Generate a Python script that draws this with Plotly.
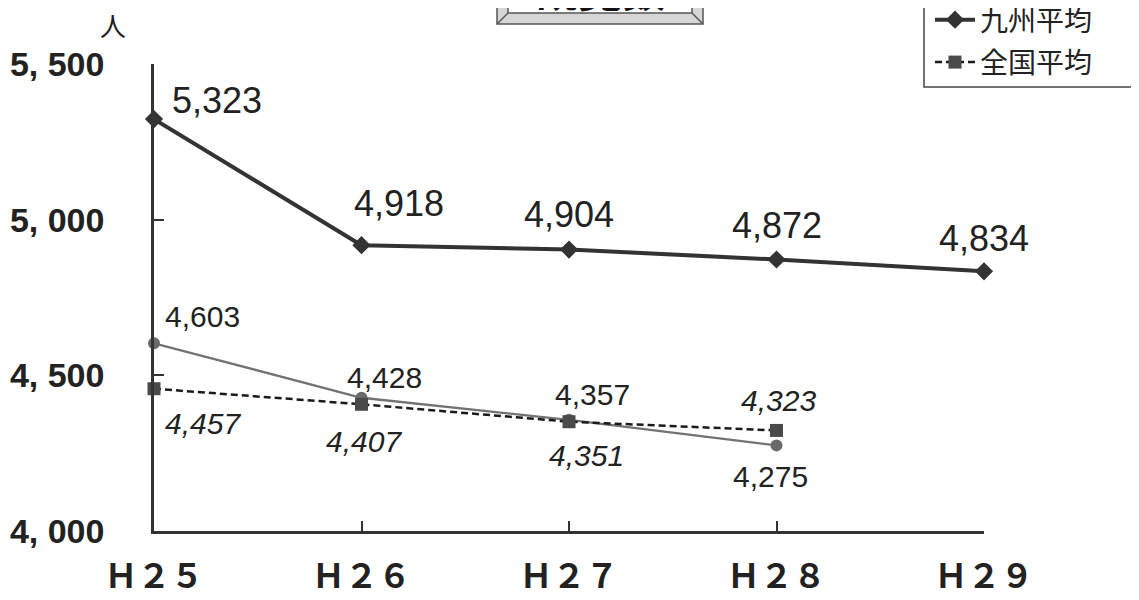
import plotly.graph_objects as go

# ---- data ----
categories = ["Ｈ２５", "Ｈ２６", "Ｈ２７", "Ｈ２８", "Ｈ２９"]
kyushu = [5323, 4918, 4904, 4872, 4834]
zenkoku = [4457, 4407, 4351, 4323]
other = [4603, 4428, 4357, 4275]
y_ticks = [4000, 4500, 5000, 5500]
y_ticktext = ["4, 000", "4, 500", "5, 000", "5, 500"]
title_text = "観覧数"
unit_text = "人"

# ---- geometry (page px; the page body has an 8px margin) ----
OFF = 8
W, H = 1139 - 2 * OFF, 600 - 2 * OFF
PL, PR, PT, PB = 154, 984, 64, 531          # plot area in page px
L, R, T, B = PL - OFF, W - (PR - OFF), PT - OFF, H - (PB - OFF)
PW, PH = W - L - R, H - T - B

def px(xp):
    return (xp - OFF - L) / PW

def py(yp):
    return (H - B - (yp - OFF)) / PH

xs = list(range(len(categories)))

fig = go.Figure()
fig.add_trace(go.Scatter(
    x=xs[:len(other)], y=other, mode="lines+markers", showlegend=False,
    line=dict(color="#727272", width=2.3),
    marker=dict(symbol="circle", size=12, color="#6a6a6a"),
    cliponaxis=False, name="その他"))
fig.add_trace(go.Scatter(
    x=xs, y=kyushu, mode="lines+markers", name="九州平均",
    legendgroup="a",
    line=dict(color="#333333", width=4),
    marker=dict(symbol="diamond", size=14, color="#333333"),
    cliponaxis=False))
fig.add_trace(go.Scatter(
    x=xs[:len(zenkoku)], y=zenkoku, mode="lines+markers", name="全国平均",
    legendgroup="b",
    line=dict(color="#1a1a1a", width=2.5, dash="7px,4px"),
    marker=dict(symbol="square", size=13, color="#4a4a4a"),
    cliponaxis=False))

ann = []
k_off = [(63, -19), (37, -42), (0, -35), (0, -34), (0, -33)]
o_off = [(48, -27), (23, -20), (23, -25), (-6, 31)]
z_off = [(49, 35), (2, 37), (17, 34), (2, -30)]
for i, v in enumerate(kyushu):
    ann.append(dict(x=xs[i], y=v, text=f"{v:,}", showarrow=False,
                    xshift=k_off[i][0], yshift=-k_off[i][1],
                    font=dict(family="Liberation Sans", size=36, color="#222")))
for i, v in enumerate(other):
    ann.append(dict(x=xs[i], y=v, text=f"{v:,}", showarrow=False,
                    xshift=o_off[i][0], yshift=-o_off[i][1],
                    font=dict(family="Liberation Sans", size=30, color="#222")))
for i, v in enumerate(zenkoku):
    ann.append(dict(x=xs[i], y=v, text=f"<i>{v:,}</i>", showarrow=False,
                    xshift=z_off[i][0], yshift=-z_off[i][1],
                    font=dict(family="Liberation Sans", size=30, color="#222")))
ann.append(dict(xref="paper", yref="paper", x=px(113), y=py(24), text=unit_text,
                showarrow=False, xanchor="center", yanchor="middle",
                font=dict(family="Noto Sans CJK JP", size=26, color="#222")))
ann.append(dict(xref="paper", yref="paper", x=px(600), y=py(22), text=title_text,
                showarrow=False, xanchor="center", yanchor="bottom",
                font=dict(family="Noto Sans CJK JP", size=44, color="#111", weight=700)))

shapes = [
    # title box (bevelled)
    dict(type="rect", xref="paper", yref="paper", x0=px(497), x1=px(703), y0=py(24), y1=py(-20),
         fillcolor="#d6d6d6", line=dict(color="#555", width=1.5), layer="below"),
    dict(type="rect", xref="paper", yref="paper", x0=px(508), x1=px(692), y0=py(13), y1=py(-20),
         fillcolor="white", line=dict(color="#555", width=1.5), layer="below"),
    dict(type="line", xref="paper", yref="paper", x0=px(497), x1=px(508), y0=py(24), y1=py(13),
         line=dict(color="#555", width=1.5)),
    dict(type="line", xref="paper", yref="paper", x0=px(703), x1=px(692), y0=py(24), y1=py(13),
         line=dict(color="#555", width=1.5)),
    # legend box
    dict(type="rect", xref="paper", yref="paper", x0=px(924), x1=px(1160), y0=py(87), y1=py(-20),
         fillcolor="rgba(0,0,0,0)", line=dict(color="#444", width=1.5)),
]

fig.update_layout(
    width=W, height=H,
    margin=dict(l=L, r=R, t=T, b=B, autoexpand=False),
    paper_bgcolor="white", plot_bgcolor="white",
    annotations=ann, shapes=shapes,
    showlegend=True,
    legend=dict(x=px(930), y=py(-5), xanchor="left", yanchor="top",
                bgcolor="rgba(0,0,0,0)", borderwidth=0, traceorder="grouped",
                itemwidth=40, tracegroupgap=3,
                font=dict(family="Noto Sans CJK JP", size=28, color="#222")),
    xaxis=dict(range=[0, len(categories) - 1], tickvals=xs, ticktext=categories,
               ticks="inside", ticklen=10, tickwidth=2, tickcolor="#333",
               showline=True, linecolor="#333", linewidth=2.5,
               showgrid=False, zeroline=False, ticklabelstandoff=15,
               tickfont=dict(family="Noto Sans CJK JP", size=33, color="#222", weight=700)),
    yaxis=dict(range=[4000, 5500], tickvals=y_ticks, ticktext=y_ticktext,
               ticks="inside", ticklen=10, tickwidth=2, tickcolor="#333",
               showline=True, linecolor="#333", linewidth=2.5,
               showgrid=False, zeroline=False, ticklabelstandoff=40,
               tickfont=dict(family="Liberation Sans", size=34,
                             color="#222", weight=700)),
)

fig.write_html("out.html")
